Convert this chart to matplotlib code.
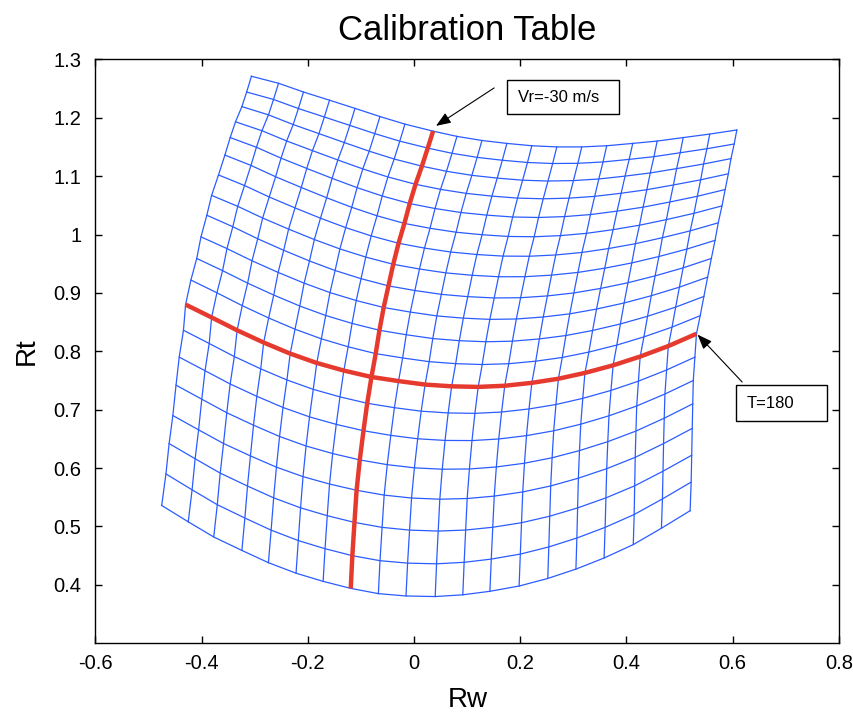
import numpy as np
import matplotlib.pyplot as plt
from matplotlib.patches import Rectangle

plt.rcParams['font.family'] = ['Liberation Sans', 'DejaVu Sans']

# mesh outline (Rw, Rt), 20 nodes per edge
top_rw = [-0.306, -0.255, -0.208, -0.159, -0.111, -0.064, -0.017, 0.036, 0.081, 0.128,
          0.175, 0.222, 0.269, 0.316, 0.363, 0.412, 0.458, 0.507, 0.557, 0.608]
top_rt = [1.271, 1.259, 1.244, 1.230, 1.216, 1.202, 1.189, 1.177, 1.168, 1.161,
          1.156, 1.152, 1.150, 1.150, 1.152, 1.156, 1.160, 1.166, 1.172, 1.179]
bottom_rw = [-0.475, -0.425, -0.377, -0.324, -0.274, -0.222, -0.171, -0.119, -0.067, -0.015,
             0.040, 0.092, 0.143, 0.198, 0.252, 0.305, 0.358, 0.413, 0.466, 0.520]
bottom_rt = [0.536, 0.508, 0.482, 0.459, 0.438, 0.420, 0.406, 0.394, 0.385, 0.381,
             0.380, 0.383, 0.389, 0.398, 0.411, 0.427, 0.446, 0.469, 0.497, 0.527]
left_rw = [-0.306, -0.315, -0.324, -0.336, -0.346, -0.356, -0.368, -0.381, -0.390, -0.401,
           -0.409, -0.420, -0.430, -0.434, -0.442, -0.448, -0.454, -0.461, -0.467, -0.475]
left_rt = [1.271, 1.244, 1.219, 1.193, 1.166, 1.136, 1.102, 1.067, 1.033, 0.996,
           0.959, 0.922, 0.880, 0.836, 0.790, 0.742, 0.690, 0.642, 0.590, 0.536]
right_rw = [0.608, 0.603, 0.597, 0.592, 0.586, 0.580, 0.573, 0.567, 0.560, 0.553,
            0.546, 0.539, 0.532, 0.529, 0.526, 0.525, 0.524, 0.523, 0.522, 0.520]
right_rt = [1.179, 1.155, 1.130, 1.104, 1.077, 1.049, 1.020, 0.990, 0.959, 0.927,
            0.894, 0.861, 0.830, 0.790, 0.750, 0.710, 0.668, 0.622, 0.576, 0.527]

# highlighted curves: T=180 (row 12) and Vr=-30 m/s (column 7)
t180_rw = [-0.430, -0.381, -0.333, -0.283, -0.233, -0.183, -0.132, -0.080, -0.029, 0.021,
           0.071, 0.121, 0.171, 0.222, 0.272, 0.322, 0.375, 0.426, 0.479, 0.532]
t180_rt = [0.880, 0.858, 0.836, 0.815, 0.796, 0.780, 0.767, 0.756, 0.749, 0.743,
           0.740, 0.739, 0.741, 0.746, 0.753, 0.763, 0.776, 0.791, 0.809, 0.830]
vr30_rw = [0.036, 0.026, 0.015, 0.003, -0.008, -0.018, -0.029, -0.039, -0.048, -0.057,
           -0.065, -0.072, -0.080, -0.088, -0.095, -0.102, -0.108, -0.112, -0.116, -0.119]
vr30_rt = [1.177, 1.148, 1.117, 1.086, 1.053, 1.019, 0.985, 0.949, 0.912, 0.875,
           0.836, 0.796, 0.756, 0.711, 0.664, 0.614, 0.562, 0.507, 0.450, 0.394]

xticks = [-0.6, -0.4, -0.2, 0, 0.2, 0.4, 0.6, 0.8]
xtick_labels = ['-0.6', '-0.4', '-0.2', '0', '0.2', '0.4', '0.6', '0.8']
yticks = [0.4, 0.5, 0.6, 0.7, 0.8, 0.9, 1.0, 1.1, 1.2, 1.3]
ytick_labels = ['0.4', '0.5', '0.6', '0.7', '0.8', '0.9', '1', '1.1', '1.2', '1.3']

ROW, COL = 12, 7


def coons(top, bot, left, right):
    top, bot, left, right = map(np.asarray, (top, bot, left, right))
    v = np.linspace(0, 1, len(left))[:, None]
    u = np.linspace(0, 1, len(top))[None, :]
    corners = ((1 - u) * (1 - v) * top[0] + u * (1 - v) * top[-1]
               + (1 - u) * v * bot[0] + u * v * bot[-1])
    return ((1 - v) * top[None, :] + v * bot[None, :]
            + (1 - u) * left[:, None] + u * right[:, None] - corners)


def build(top, bot, left, right, mrow, mcol):
    g = np.zeros((len(left), len(top)))
    g[:ROW + 1, :COL + 1] = coons(top[:COL + 1], mrow[:COL + 1], left[:ROW + 1], mcol[:ROW + 1])
    g[:ROW + 1, COL:] = coons(top[COL:], mrow[COL:], mcol[:ROW + 1], right[:ROW + 1])
    g[ROW:, :COL + 1] = coons(mrow[:COL + 1], bot[:COL + 1], left[ROW:], mcol[ROW:])
    g[ROW:, COL:] = coons(mrow[COL:], bot[COL:], mcol[ROW:], right[ROW:])
    return g


RW = build(top_rw, bottom_rw, left_rw, right_rw, t180_rw, vr30_rw)
RT = build(top_rt, bottom_rt, left_rt, right_rt, t180_rt, vr30_rt)

fig = plt.figure(figsize=(8.54, 7.13), dpi=100)
ax = fig.add_axes([0.1116, 0.0978, 0.8706, 0.819])

mesh_col = '#2b5cff'
for i in range(RW.shape[0]):
    ax.plot(RW[i, :], RT[i, :], color=mesh_col, lw=0.9)
for j in range(RW.shape[1]):
    ax.plot(RW[:, j], RT[:, j], color=mesh_col, lw=0.9)

ax.plot(t180_rw, t180_rt, color='#e63a2e', lw=3.2, zorder=4, solid_capstyle='butt')
ax.plot(vr30_rw, vr30_rt, color='#e63a2e', lw=3.2, zorder=4, solid_capstyle='butt')

ax.set_xlim(-0.6, 0.8)
ax.set_ylim(0.3, 1.3)
ax.set_xticks(xticks)
ax.set_xticklabels(xtick_labels)
ax.set_yticks(yticks)
ax.set_yticklabels(ytick_labels)
ax.tick_params(direction='in', top=True, right=True, length=5, width=1, labelsize=14.5)
ax.tick_params(axis='x', pad=8)
ax.tick_params(axis='y', pad=10)
for s in ax.spines.values():
    s.set_linewidth(1.0)

ax.set_title('Calibration Table', fontsize=25, pad=14)
ax.set_xlabel('Rw', fontsize=20, va='center')
ax.xaxis.set_label_coords(0.501, -0.097)
ax.set_ylabel('Rt', fontsize=20, va='center')
ax.yaxis.set_label_coords(-0.092, 0.5)

arrow = dict(arrowstyle='-|>,head_length=0.9,head_width=0.35', color='black', lw=0.8,
             shrinkA=0, shrinkB=0)
ax.annotate('', xy=(0.0415, 1.186), xytext=(0.151, 1.251), arrowprops=arrow, zorder=6)
ax.annotate('', xy=(0.534, 0.8286), xytext=(0.618, 0.7474), arrowprops=arrow, zorder=6)

ax.add_patch(Rectangle((0.1746, 1.2057), 0.2114, 0.0588, facecolor='white',
                       edgecolor='black', lw=1, zorder=5))
ax.text(0.1965, 1.235, 'Vr=-30 m/s', fontsize=12, ha='left', va='center', zorder=6)
ax.add_patch(Rectangle((0.6064, 0.6805), 0.1719, 0.0612, facecolor='white',
                       edgecolor='black', lw=1, zorder=5, clip_on=False))
ax.text(0.6265, 0.711, 'T=180', fontsize=12, ha='left', va='center', zorder=6)

fig.savefig('out.png', dpi=100)
